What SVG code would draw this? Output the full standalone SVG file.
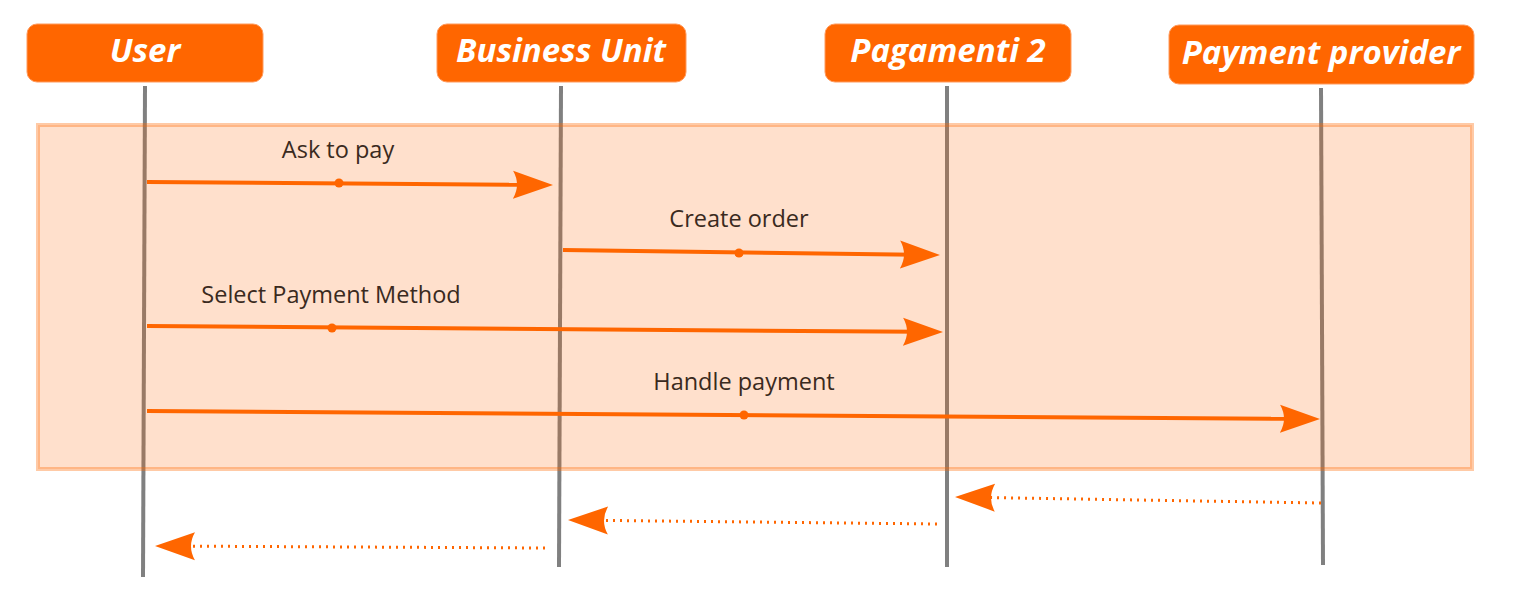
<svg xmlns="http://www.w3.org/2000/svg" width="1513" height="611" viewBox="0 0 1513 611">
<style>
.hdr{fill:#ff6600;stroke:#ff9a5c;stroke-width:1}
.hdrt{font-family:"Open Sans","Liberation Sans",sans-serif;font-weight:bold;font-style:italic;font-size:33px;fill:#ffffff;text-anchor:middle}
.life{stroke:#808080;stroke-width:4;fill:none}
.msg{stroke:#ff6600;stroke-width:4;fill:none}
.ret{stroke:#ff6600;stroke-width:3;fill:none;stroke-dasharray:2 5}
.dot{fill:#ff6600}
.lbl{font-family:"Open Sans","Liberation Sans",sans-serif;font-size:23.5px;fill:#3a2a20;text-anchor:middle}
</style>
<defs>
<marker id="ah" markerUnits="userSpaceOnUse" markerWidth="44" markerHeight="32" refX="15" refY="16" orient="auto">
<path d="M40,16 L0,2 Q8,16 0,30 Z" fill="#ff6600"/>
</marker>
</defs>
<rect width="1513" height="611" fill="#ffffff"/>
<g id="lifelines">
<line class="life" x1="145" y1="86" x2="143" y2="577"/>
<line class="life" x1="561" y1="86" x2="559" y2="567"/>
<line class="life" x1="947" y1="86" x2="947" y2="567"/>
<line class="life" x1="1321" y1="88" x2="1323" y2="565"/>
</g>
<g id="frame">
<rect x="38" y="125" width="1434" height="344" fill="#ff6600" fill-opacity="0.2" stroke="#ff6600" stroke-opacity="0.35" stroke-width="4"/>
</g>
<g id="user">
<rect class="hdr" x="27" y="24" width="236" height="58" rx="10"/>
<text class="hdrt" x="145" y="62">User</text>
</g>
<g id="business-unit">
<rect class="hdr" x="437" y="24" width="249" height="58" rx="10"/>
<text class="hdrt" x="561" y="62">Business Unit</text>
</g>
<g id="pagamenti-2">
<rect class="hdr" x="825" y="24" width="246" height="58" rx="10"/>
<text class="hdrt" x="948" y="62">Pagamenti 2</text>
</g>
<g id="payment-provider">
<rect class="hdr" x="1169" y="25" width="305" height="59" rx="10"/>
<text class="hdrt" x="1321" y="64">Payment provider</text>
</g>
<g id="connectors">
<line class="msg" x1="147" y1="182" x2="528" y2="184.8" marker-end="url(#ah)"/>
<circle class="dot" cx="339" cy="183" r="4.5"/>
<text class="lbl" x="338" y="158">Ask to pay</text>
<line class="msg" x1="563" y1="250" x2="915" y2="254.7" marker-end="url(#ah)"/>
<circle class="dot" cx="739" cy="253" r="4.5"/>
<text class="lbl" x="739" y="227">Create order</text>
<line class="msg" x1="147" y1="326" x2="918" y2="331.8" marker-end="url(#ah)"/>
<circle class="dot" cx="332" cy="328" r="4.5"/>
<text class="lbl" x="331" y="303">Select Payment Method</text>
<line class="msg" x1="147" y1="411" x2="1295" y2="418.8" marker-end="url(#ah)"/>
<circle class="dot" cx="744" cy="415" r="4.5"/>
<text class="lbl" x="744" y="390">Handle payment</text>
<line class="ret" x1="1321" y1="503" x2="980" y2="497.4" marker-end="url(#ah)"/>
<line class="ret" x1="937" y1="524" x2="593" y2="520.3" marker-end="url(#ah)"/>
<line class="ret" x1="545" y1="548" x2="180" y2="546.1" marker-end="url(#ah)"/>
</g>
</svg>
